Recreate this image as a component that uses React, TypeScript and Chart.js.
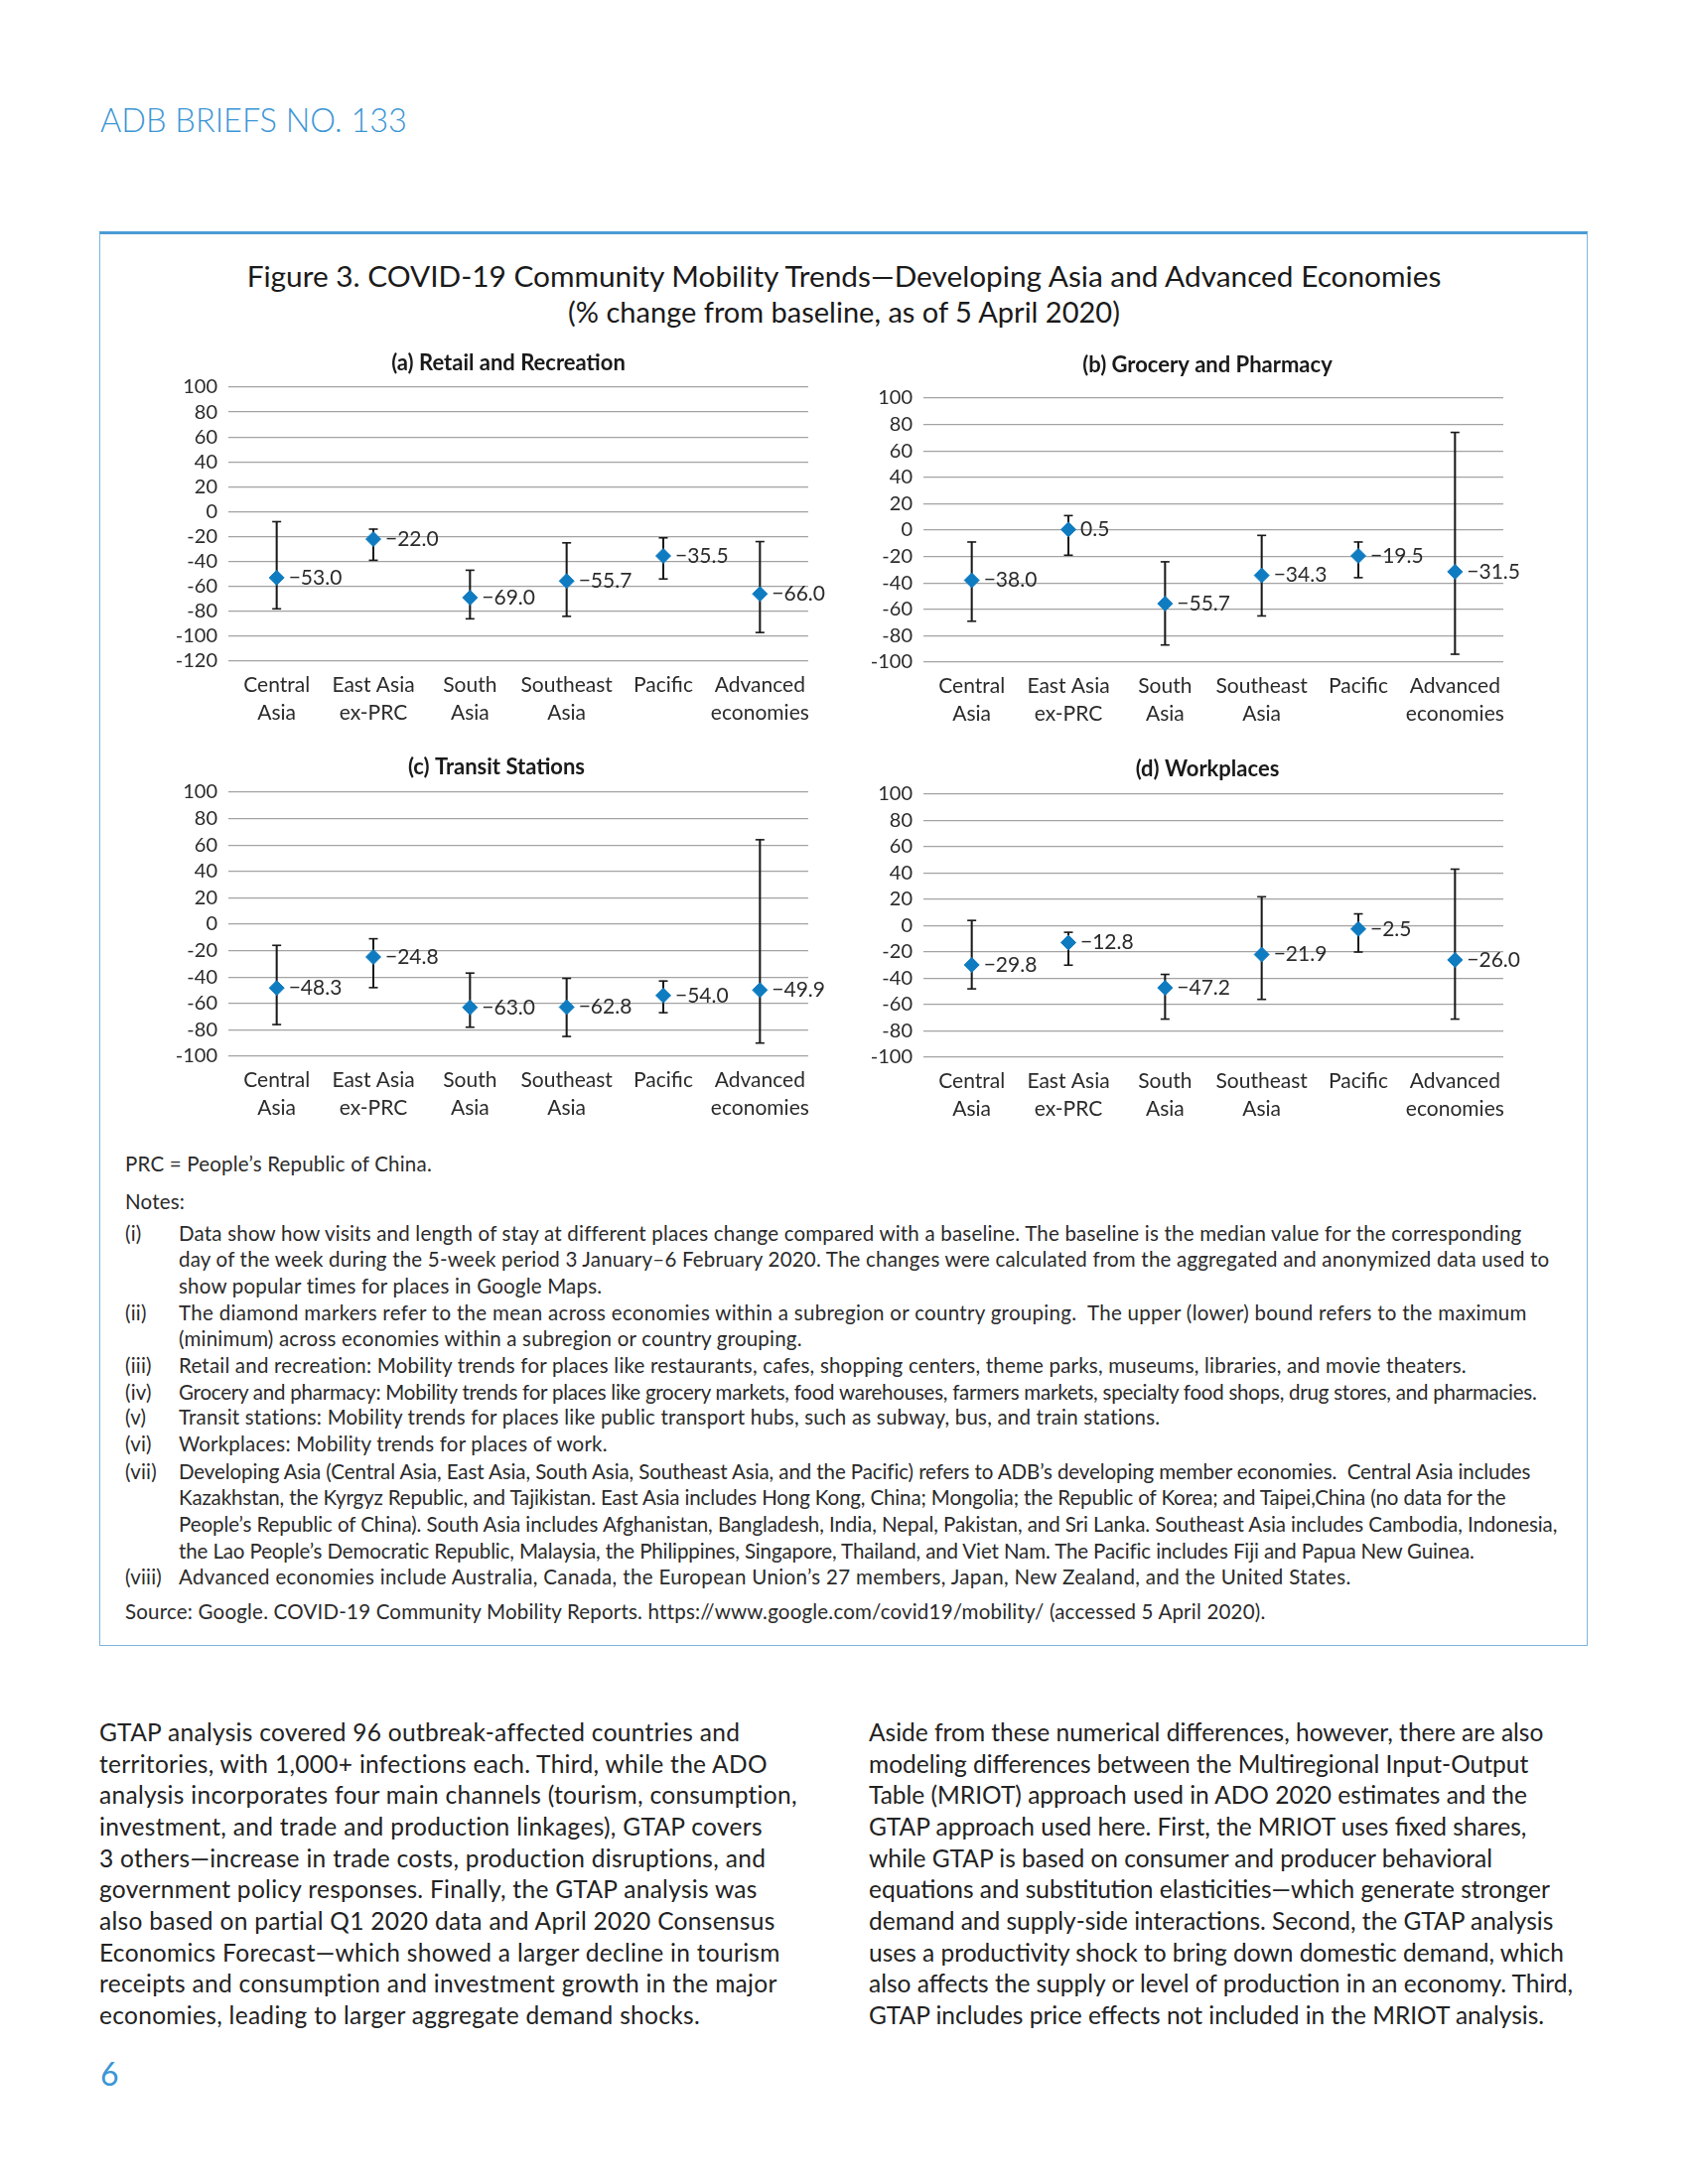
import React, { useEffect, useRef } from "react";
import { Chart, registerables } from "chart.js";

Chart.register(...registerables);

// ---------------- DATA ----------------
const CATEGORIES = [
  ["Central", "Asia"],
  ["East Asia", "ex-PRC"],
  ["South", "Asia"],
  ["Southeast", "Asia"],
  ["Pacific"],
  ["Advanced", "economies"],
];

const RETAIL_MEAN = [-53.0, -22.0, -69.0, -55.7, -35.5, -66.0];
const RETAIL_LOW = [-78, -39, -86, -84, -54, -97];
const RETAIL_HIGH = [-8, -14, -47, -25, -21, -24];

const GROCERY_MEAN = [-38.0, 0.5, -55.7, -34.3, -19.5, -31.5];
const GROCERY_LOW = [-69, -19, -87, -65, -36, -94];
const GROCERY_HIGH = [-9, 11, -24, -4, -9, 74];

const TRANSIT_MEAN = [-48.3, -24.8, -63.0, -62.8, -54.0, -49.9];
const TRANSIT_LOW = [-76, -48, -78, -85, -67, -90];
const TRANSIT_HIGH = [-16, -11, -37, -41, -43, 64];

const WORK_MEAN = [-29.8, -12.8, -47.2, -21.9, -2.5, -26.0];
const WORK_LOW = [-48, -30, -71, -56, -20, -71];
const WORK_HIGH = [4, -5, -37, 22, 9, 43];

const PANEL_TITLES = [
  "(a) Retail and Recreation",
  "(b) Grocery and Pharmacy",
  "(c) Transit Stations",
  "(d) Workplaces",
];
const Y_MIN = [-120, -100, -100, -100];
const Y_MAX = 100;
const Y_STEP = 20;

// ---------------- STYLE ----------------
const FONT = "Lato, 'Open Sans', sans-serif";
const BLUE = "#0f7bc0";
const BAR = "#1a1a1a";
const GRID = "#a3a3a3";
const TEXT = "#2b2b2b";
const ACCENT = "#3b96d6";

type Panel = {
  title: string;
  mean: number[];
  low: number[];
  high: number[];
  min: number;
  left: number;
  top: number;
  plotTop: number;
  plotBottom: number;
  titleX: number;
  titleY: number;
};

const W = 690;
const H = 400;

const PANELS: Panel[] = [
  { title: PANEL_TITLES[0], mean: RETAIL_MEAN, low: RETAIL_LOW, high: RETAIL_HIGH, min: Y_MIN[0], left: 150, top: 340, plotTop: 390, plotBottom: 666, titleX: 512, titleY: 366 },
  { title: PANEL_TITLES[1], mean: GROCERY_MEAN, low: GROCERY_LOW, high: GROCERY_HIGH, min: Y_MIN[1], left: 850, top: 340, plotTop: 401, plotBottom: 667, titleX: 1216, titleY: 368 },
  { title: PANEL_TITLES[2], mean: TRANSIT_MEAN, low: TRANSIT_LOW, high: TRANSIT_HIGH, min: Y_MIN[2], left: 150, top: 750, plotTop: 798, plotBottom: 1064, titleX: 500, titleY: 773 },
  { title: PANEL_TITLES[3], mean: WORK_MEAN, low: WORK_LOW, high: WORK_HIGH, min: Y_MIN[3], left: 850, top: 750, plotTop: 800, plotBottom: 1065, titleX: 1216, titleY: 775 },
];

const fmt = (v: number) => (v < 0 ? "\u2212" + Math.abs(v).toFixed(1) : v.toFixed(1));

function ChartPanel({ p }: { p: Panel }) {
  const ref = useRef<HTMLCanvasElement | null>(null);
  useEffect(() => {
    if (!ref.current) return;
    const padTop = p.plotTop - p.top;
    const xHeight = p.top + H - p.plotBottom;
    const chart = new Chart(ref.current, {
      type: "bar",
      data: {
        labels: CATEGORIES as any,
        datasets: [
          {
            type: "line",
            label: "mean",
            data: p.mean,
            showLine: false,
            pointStyle: "rectRot",
            pointRadius: 7.5,
            pointHoverRadius: 7.5,
            pointBackgroundColor: BLUE,
            pointBorderColor: BLUE,
            pointBorderWidth: 1,
            order: 0,
          } as any,
          {
            type: "line",
            label: "max",
            data: p.high,
            showLine: false,
            pointStyle: "line",
            pointRadius: 4.5,
            pointBorderColor: BAR,
            pointBackgroundColor: BAR,
            pointBorderWidth: 1.6,
            order: 1,
          } as any,
          {
            type: "line",
            label: "min",
            data: p.low,
            showLine: false,
            pointStyle: "line",
            pointRadius: 4.5,
            pointBorderColor: BAR,
            pointBackgroundColor: BAR,
            pointBorderWidth: 1.6,
            order: 1,
          } as any,
          {
            type: "bar",
            label: "range",
            data: p.low.map((l, i) => [l, p.high[i]]),
            backgroundColor: BAR,
            borderWidth: 0,
            barThickness: 1.4,
            order: 2,
          } as any,
        ],
      },
      options: {
        responsive: false,
        animation: false,
        events: [],
        layout: { padding: { top: padTop, right: 26, bottom: 0, left: 0 } },
        plugins: {
          legend: { display: false },
          tooltip: { enabled: false },
          title: { display: false },
        },
        scales: {
          x: {
            grid: { display: false, drawTicks: false },
            border: { display: false },
            ticks: {
              color: TEXT,
              font: { family: FONT, size: 21, lineHeight: 1.3 },
              padding: 11,
              maxRotation: 0,
              autoSkip: false,
            },
            afterFit: (s: any) => {
              s.height = xHeight;
            },
          },
          y: {
            min: p.min,
            max: Y_MAX,
            grid: { color: GRID, lineWidth: 1.2, drawTicks: false },
            border: { display: false },
            ticks: {
              stepSize: Y_STEP,
              autoSkip: false,
              maxTicksLimit: 30,
              color: TEXT,
              font: { family: FONT, size: 20, lineHeight: 1.2 },
              padding: 11,
            },
            afterFit: (s: any) => {
              s.width = 80;
            },
          },
        },
      },
      plugins: [
        {
          id: "panelText",
          afterDatasetsDraw(c: any) {
            const ctx = c.ctx;
            const meta = c.getDatasetMeta(0);
            ctx.save();
            ctx.fillStyle = TEXT;
            ctx.font = `21px ${FONT}`;
            ctx.textAlign = "left";
            ctx.textBaseline = "middle";
            meta.data.forEach((pt: any, i: number) => {
              ctx.fillText(fmt(p.mean[i]), pt.x + 12, pt.y);
            });
            ctx.fillStyle = "#1a1a1a";
            ctx.font = `bold 22px ${FONT}`;
            ctx.textAlign = "center";
            ctx.fillText(p.title, p.titleX - p.left, p.titleY - p.top);
            ctx.restore();
          },
        },
      ],
    } as any);
    return () => chart.destroy();
  }, []);
  return (
    <canvas
      ref={ref}
      width={W}
      height={H}
      style={{ position: "absolute", left: p.left, top: p.top, width: W, height: H }}
    />
  );
}

const NOTES: [string, string[], number[]][] = [
  ["(i)", [
    "Data show how visits and length of stay at different places change compared with a baseline. The baseline is the median value for the corresponding",
    "day of the week during the 5-week period 3 January\u20136 February 2020. The changes were calculated from the aggregated and anonymized data used to",
    "show popular times for places in Google Maps.",
  ], [0.2, 0.2, 0.2]],
  ["(ii)", [
    "The diamond markers refer to the mean across economies within a subregion or country grouping.  The upper (lower) bound refers to the maximum",
    "(minimum) across economies within a subregion or country grouping.",
  ], [0.3, 0.2]],
  ["(iii)", ["Retail and recreation: Mobility trends for places like restaurants, cafes, shopping centers, theme parks, museums, libraries, and movie theaters."], [0.2]],
  ["(iv)", ["Grocery and pharmacy: Mobility trends for places like grocery markets, food warehouses, farmers markets, specialty food shops, drug stores, and pharmacies."], [-0.23]],
  ["(v)", ["Transit stations: Mobility trends for places like public transport hubs, such as subway, bus, and train stations."], [0.2]],
  ["(vi)", ["Workplaces: Mobility trends for places of work."], [0.2]],
  ["(vii)", [
    "Developing Asia (Central Asia, East Asia, South Asia, Southeast Asia, and the Pacific) refers to ADB\u2019s developing member economies.  Central Asia includes",
    "Kazakhstan, the Kyrgyz Republic, and Tajikistan. East Asia includes Hong Kong, China; Mongolia; the Republic of Korea; and Taipei,China (no data for the",
    "People\u2019s Republic of China). South Asia includes Afghanistan, Bangladesh, India, Nepal, Pakistan, and Sri Lanka. Southeast Asia includes Cambodia, Indonesia,",
    "the Lao People\u2019s Democratic Republic, Malaysia, the Philippines, Singapore, Thailand, and Viet Nam. The Pacific includes Fiji and Papua New Guinea.",
  ], [-0.09, -0.13, -0.07, -0.12]],
  ["(viii)", ["Advanced economies include Australia, Canada, the European Union\u2019s 27 members, Japan, New Zealand, and the United States."], [0.35]],
];

const BODY_LEFT = [
  "GTAP analysis covered 96 outbreak-affected countries and",
  "territories, with 1,000+ infections each. Third, while the ADO",
  "analysis incorporates four main channels (tourism, consumption,",
  "investment, and trade and production linkages), GTAP covers",
  "3 others\u2014increase in trade costs, production disruptions, and",
  "government policy responses. Finally, the GTAP analysis was",
  "also based on partial Q1 2020 data and April 2020 Consensus",
  "Economics Forecast\u2014which showed a larger decline in tourism",
  "receipts and consumption and investment growth in the major",
  "economies, leading to larger aggregate demand shocks.",
];
const BODY_RIGHT = [
  "Aside from these numerical differences, however, there are also",
  "modeling differences between the Multiregional Input-Output",
  "Table (MRIOT) approach used in ADO 2020 estimates and the",
  "GTAP approach used here. First, the MRIOT uses fixed shares,",
  "while GTAP is based on consumer and producer behavioral",
  "equations and substitution elasticities\u2014which generate stronger",
  "demand and supply-side interactions. Second, the GTAP analysis",
  "uses a productivity shock to bring down domestic demand, which",
  "also affects the supply or level of production in an economy. Third,",
  "GTAP includes price effects not included in the MRIOT analysis.",
];

function Line({ x, cy, size, lh, children, color = TEXT, weight = 400, center = false, width, ls = 0 }: any) {
  return (
    <div
      style={{
        position: "absolute",
        left: x,
        top: cy - lh / 2,
        height: lh,
        lineHeight: lh + "px",
        fontSize: size,
        fontFamily: FONT,
        fontWeight: weight,
        letterSpacing: ls,
        color,
        whiteSpace: "pre",
        width: width,
        textAlign: center ? "center" : "left",
      }}
    >
      {children}
    </div>
  );
}

const NOTE_SIZE = 20.5;
const NOTE_LS = 0.2;

export default function App() {
  const noteRows: any[] = [];
  const noteY = [
    [1241.5, 1268, 1294.5],
    [1321.5, 1348],
    [1375],
    [1401.5],
    [1427],
    [1454],
    [1481.5, 1508, 1534.5, 1561.5],
    [1587.5],
  ];
  NOTES.forEach(([num, lines, spacing], i) => {
    noteRows.push(
      <Line key={"n" + i} x={126} cy={noteY[i][0]} size={NOTE_SIZE} lh={26} ls={NOTE_LS}>{num}</Line>
    );
    lines.forEach((t, j) => {
      noteRows.push(
        <Line key={"t" + i + "-" + j} x={180} cy={noteY[i][j]} size={NOTE_SIZE} lh={26} ls={spacing[j]}>{t}</Line>
      );
    });
  });

  return (
    <div style={{ position: "absolute", left: 0, top: 0, width: 1700, height: 2200, background: "#fff", overflow: "hidden" }}>
      <Line x={101} cy={121} size={32.5} lh={42} color={ACCENT} weight={300}>ADB BRIEFS NO. 133</Line>

      <div
        style={{
          position: "absolute",
          left: 100,
          top: 233,
          width: 1499,
          height: 1425,
          boxSizing: "border-box",
          borderTop: "3px solid #4a9bd4",
          borderLeft: "1px solid #7db5df",
          borderRight: "1px solid #7db5df",
          borderBottom: "1px solid #7db5df",
        }}
      />

      <Line x={100} width={1500} center cy={278} size={29.8} lh={38} color="#1a1a1a">
        Figure 3. COVID-19 Community Mobility Trends{"\u2014"}Developing Asia and Advanced Economies
      </Line>
      <Line x={100} width={1500} center cy={314} size={29} lh={36} color="#1a1a1a">
        (% change from baseline, as of 5 April 2020)
      </Line>

      {PANELS.map((p, i) => (
        <ChartPanel key={i} p={p} />
      ))}

      <Line x={126} cy={1172} size={NOTE_SIZE} lh={26} ls={NOTE_LS}>PRC = People{"\u2019"}s Republic of China.</Line>
      <Line x={126} cy={1210} size={NOTE_SIZE} lh={26} ls={NOTE_LS}>Notes:</Line>
      {noteRows}
      <Line x={126} cy={1623} size={NOTE_SIZE} lh={26} ls={NOTE_LS}>
        Source: Google. COVID-19 Community Mobility Reports. https://www.google.com/covid19/mobility/ (accessed 5 April 2020).
      </Line>

      {BODY_LEFT.map((t, i) => (
        <Line key={"bl" + i} x={100} cy={1745 + i * 31.67} size={24.5} lh={30} ls={0.3} color="#222">{t}</Line>
      ))}
      {BODY_RIGHT.map((t, i) => (
        <Line key={"br" + i} x={875} cy={1745 + i * 31.67} size={24.5} lh={30} ls={0.0} color="#222">{t}</Line>
      ))}

      <Line x={101} cy={2089} size={32} lh={40} color={ACCENT}>6</Line>
    </div>
  );
}
